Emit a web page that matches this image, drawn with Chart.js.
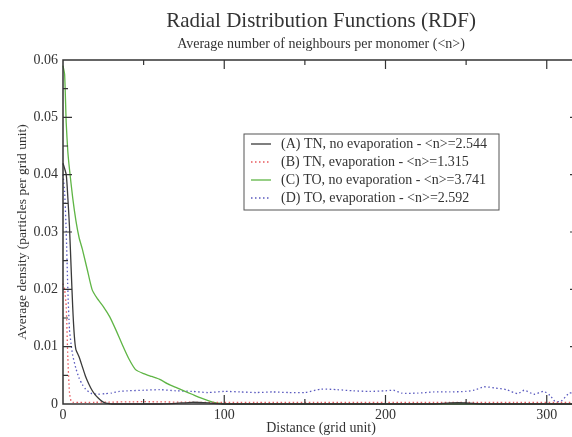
<!DOCTYPE html>
<html>
<head>
<meta charset="utf-8">
<script src="https://cdn.jsdelivr.net/npm/chart.js@4.4.1/dist/chart.umd.min.js"></script>
<style>
  html, body { margin: 0; padding: 0; background: #fff; overflow: hidden; }
  #wrap { width: 582px; height: 437px; }
</style>
</head>
<body>
<div id="wrap"><canvas id="rdf"></canvas></div>
<script>
// Set Data
const seriesNames = [
  "(A) TN, no evaporation - <n>=2.544",
  "(B) TN, evaporation - <n>=1.315",
  "(C) TO, no evaporation - <n>=3.741",
  "(D) TO, evaporation - <n>=2.592",
];

// tick positions (major ones get labels)
const xTicks = [0, 50, 100, 150, 200, 250, 300];
const yTicks = [0, 0.005, 0.01, 0.015, 0.02, 0.025, 0.03, 0.035, 0.04, 0.045, 0.05, 0.055, 0.06];

const xA = [0, 2, 3, 4, 5, 6, 7, 8, 10, 12, 14, 16, 18, 20, 22, 24, 26, 28, 30, 60, 70, 80, 90, 100, 230, 240, 250, 260, 320];
const yA = [0.042, 0.04, 0.036, 0.031, 0.024, 0.017, 0.012, 0.0095, 0.0082, 0.0065, 0.0048, 0.0035, 0.0024, 0.0016, 0.001, 0.0005, 0.0002, 0.0001, 0, 0, 0.0001, 0.0003, 0.0002, 0, 0, 0.0002, 0.0002, 0, 0];

const xB = [0, 1, 2, 3, 4, 5, 6, 20, 50, 80, 120, 160, 200, 240, 280, 320];
const yB = [0.021, 0.02, 0.017, 0.008, 0.002, 0.0005, 0.0003, 0.0003, 0.0004, 0.0003, 0.0003, 0.0003, 0.0003, 0.0003, 0.0003, 0.0003];

const xC = [0, 1, 2, 3, 4, 6, 8, 10, 12, 15, 18, 21, 25, 29, 33, 37, 41, 45, 50, 55, 60, 65, 70, 75, 80, 85, 90, 95, 98, 100, 320];
const yC = [0.059, 0.0575, 0.049, 0.044, 0.041, 0.036, 0.032, 0.029, 0.027, 0.0235, 0.02, 0.0185, 0.017, 0.0152, 0.0128, 0.0102, 0.0078, 0.006, 0.0053, 0.0048, 0.0043, 0.0035, 0.0029, 0.0023, 0.0017, 0.0011, 0.0006, 0.0002, 0.0001, 0, 0];

const xD = [0, 1, 2, 3, 4, 5, 6, 8, 10, 12, 14, 16, 18, 22, 26, 30, 35, 40, 50, 60, 70, 80, 90, 100, 110, 120, 130, 140, 150, 160, 170, 180, 190, 200, 205, 210, 220, 230, 240, 250, 255, 261, 268, 275, 282, 286, 292, 298, 302, 305, 309, 314, 320];
const yD = [0.04, 0.037, 0.03, 0.02, 0.013, 0.0105, 0.0085, 0.0062, 0.0045, 0.0034, 0.0026, 0.0021, 0.0018, 0.0017, 0.0018, 0.0019, 0.0022, 0.0023, 0.0024, 0.0025, 0.0023, 0.0022, 0.002, 0.0022, 0.0021, 0.002, 0.0021, 0.002, 0.002, 0.0026, 0.0025, 0.0023, 0.0022, 0.0023, 0.0024, 0.0019, 0.0019, 0.0021, 0.0021, 0.0022, 0.0024, 0.003, 0.0028, 0.0025, 0.0018, 0.0024, 0.0017, 0.0022, 0.0015, 0.0005, 0.0005, 0.0019, 0.0017];

const lineColors = ["#3a3a3a", "#e8585c", "#5fb545", "#5a5abf"];
const lineDashes = [[], [1.5, 2.5], [], [1.5, 2.5]];

const serif = "'Liberation Serif', 'DejaVu Serif', serif";

function zip(xs, ys) {
  return xs.map((x, i) => ({ x: x, y: ys[i] }));
}

// ----------------------Frame, inward ticks, legend-----------------------
const frameTicks = {
  id: "frameTicks",
  afterDraw(chart) {
    const { ctx, chartArea: a, scales } = chart;
    ctx.save();
    ctx.strokeStyle = "#333";
    ctx.lineWidth = 1.5;
    ctx.strokeRect(a.left, a.top, a.right - a.left, a.bottom - a.top);

    ctx.lineWidth = 1.2;
    ctx.beginPath();
    scales.x.ticks.forEach((t) => {
      if (t.value <= 0) return;
      const px = scales.x.getPixelForValue(t.value);
      const len = t.value % 100 === 0 ? 9 : 5;
      ctx.moveTo(px, a.bottom);
      ctx.lineTo(px, a.bottom - len);
      ctx.moveTo(px, a.top);
      ctx.lineTo(px, a.top + len);
    });
    scales.y.ticks.forEach((t) => {
      const k = Math.round(t.value * 1000);
      if (k <= 0 || k >= 60) return;
      const py = scales.y.getPixelForValue(t.value);
      const len = k % 10 === 0 ? 9 : 5;
      ctx.moveTo(a.left, py);
      ctx.lineTo(a.left + len, py);
      ctx.moveTo(a.right, py);
      ctx.lineTo(a.right - len, py);
    });
    ctx.stroke();

    // legend box
    const bx = 244, by = 134, bw = 255, bh = 76;
    ctx.fillStyle = "#fff";
    ctx.fillRect(bx, by, bw, bh);
    ctx.strokeStyle = "#555";
    ctx.lineWidth = 1;
    ctx.strokeRect(bx, by, bw, bh);
    ctx.font = "14px " + serif;
    ctx.textBaseline = "middle";
    seriesNames.forEach((name, i) => {
      const ry = by + 10 + i * 18;
      ctx.strokeStyle = lineColors[i];
      ctx.lineWidth = 1.3;
      ctx.setLineDash(lineDashes[i]);
      ctx.beginPath();
      ctx.moveTo(bx + 7, ry);
      ctx.lineTo(bx + 27, ry);
      ctx.stroke();
      ctx.setLineDash([]);
      ctx.fillStyle = "#333";
      ctx.fillText(name, bx + 37, ry);
    });
    ctx.restore();
  },
};

new Chart("rdf", {
  type: "line",
  data: {
    datasets: [
      { label: seriesNames[0], data: zip(xA, yA) },
      { label: seriesNames[1], data: zip(xB, yB) },
      { label: seriesNames[2], data: zip(xC, yC) },
      { label: seriesNames[3], data: zip(xD, yD) },
    ].map((d, i) => ({
      ...d,
      borderColor: lineColors[i],
      borderDash: lineDashes[i],
      borderWidth: 1.3,
      pointRadius: 0,
      tension: 0.2,
      fill: false,
      clip: 3,
    })),
  },
  options: {
    responsive: true,
    maintainAspectRatio: false,
    animation: false,
    layout: { padding: { top: 0, right: 3, bottom: 0, left: 0 } },
    plugins: {
      legend: { display: false },
      tooltip: { enabled: false },
      title: {
        display: true,
        text: "Radial Distribution Functions (RDF)",
        color: "#333",
        fullSize: false,
        font: { family: serif, size: 21, weight: "normal", lineHeight: 1.2 },
        padding: { top: 9, bottom: 0 },
      },
      subtitle: {
        display: true,
        text: "Average number of neighbours per monomer (<n>)",
        color: "#333",
        fullSize: false,
        font: { family: serif, size: 14, weight: "normal", lineHeight: 1.2 },
        padding: { top: 2, bottom: 7 },
      },
    },
    scales: {
      x: {
        type: "linear",
        min: 0,
        max: 320,
        grid: { display: false, drawTicks: false },
        border: { display: false },
        afterBuildTicks: (scale) => { scale.ticks = xTicks.map((v) => ({ value: v })); },
        ticks: {
          padding: 3,
          autoSkip: false,
          color: "#333",
          maxRotation: 0,
          font: { family: serif, size: 14 },
          callback: (v) => (v % 100 === 0 ? String(v) : ""),
        },
        title: {
          display: true,
          text: "Distance (grid unit)",
          color: "#333",
          font: { family: serif, size: 14 },
          padding: { top: 0, bottom: 0 },
        },
        afterFit: (scale) => { scale.height = 33; },
      },
      y: {
        min: 0,
        max: 0.06,
        grid: { display: false, drawTicks: false },
        border: { display: false },
        afterBuildTicks: (scale) => { scale.ticks = yTicks.map((v) => ({ value: v })); },
        ticks: {
          padding: 5,
          autoSkip: false,
          color: "#333",
          font: { family: serif, size: 14 },
          callback: (v) => {
            const k = Math.round(v * 1000);
            return k % 10 === 0 ? String(k / 1000) : "";
          },
        },
        title: {
          display: true,
          text: "Average density (particles per grid unit)",
          color: "#333",
          font: { family: serif, size: 13.5 },
          padding: { top: 14, bottom: 0 },
        },
        afterFit: (scale) => { scale.width = 63; },
      },
    },
  },
  plugins: [frameTicks],
});
</script>
</body>
</html>
